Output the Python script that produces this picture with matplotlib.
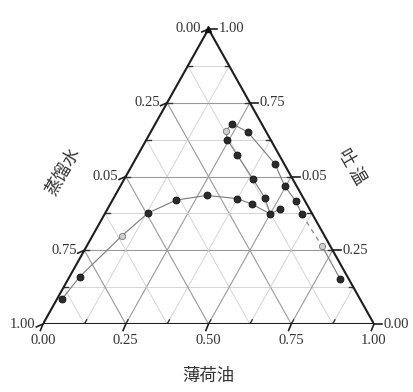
import matplotlib.pyplot as plt
import numpy as np

# values: oil (bottom axis) and tween (right axis) fractions
curve_oil = [0.015, 0.031, 0.089, 0.129, 0.192, 0.277, 0.373, 0.427, 0.500,
             0.457, 0.388, 0.299, 0.244, 0.225, 0.231, 0.293, 0.430, 0.497,
             0.556, 0.596]
curve_tween = [0.084, 0.161, 0.299, 0.376, 0.420, 0.436, 0.425, 0.407, 0.373,
               0.427, 0.492, 0.574, 0.625, 0.655, 0.679, 0.651, 0.542, 0.467,
               0.416, 0.372]
curve_light = [2, 13]
tail_oil = [0.712, 0.820]
tail_tween = [0.263, 0.154]
extra_oil = [0.500, 0.521]
extra_tween = [0.373, 0.390]

ticks = [0.0, 0.25, 0.5, 0.75, 1.0]
bottom_labels = ['0.00', '0.25', '0.50', '0.75', '1.00']
left_labels = ['1.00', '0.75', '0.05', '0.25', '0.00']     # by tween level 0 -> 1
right_labels = ['0.00', '0.25', '0.05', '0.75', '1.00']
bottom_title = '薄荷油'
left_title = '蒸馏水'
right_title = '吐 温'

serif = 'Liberation Serif'
cjk = ['Noto Sans CJK SC', 'DejaVu Sans']


def xy(oil, tween):
    oil = np.asarray(oil, float)
    tween = np.asarray(tween, float)
    return oil + tween / 2, tween


fig = plt.figure(figsize=(4.14, 3.92), dpi=100)
ax = fig.add_axes([43 / 414, 68 / 392, 331 / 414, 295 / 392])
ax.set_xlim(0, 1)
ax.set_ylim(0, 1)
ax.axis('off')

# grid, every 1/8
for k in range(1, 8):
    f = k / 8
    major = k % 2 == 0
    c = '#9a9a9a' if major else '#cfcfcf'
    lw = 0.8 if major else 0.6
    # constant tween
    ax.plot([f / 2, 1 - f / 2], [f, f], color=c, lw=lw, zorder=1)
    # constant oil
    ax.plot([f, f + (1 - f) / 2], [0, 1 - f], color=c, lw=lw, zorder=1)
    # constant water
    ax.plot([1 - f, (1 - f) / 2], [0, 1 - f], color=c, lw=lw, zorder=1)
    # small inner ticks on the edges
    d = 0.014
    ax.plot([f, f + d / 2], [0, d], color='#333', lw=1.0, zorder=2)
    ax.plot([f / 2, f / 2 + d], [f, f], color='#333', lw=1.0, zorder=2)
    ax.plot([1 - f / 2, 1 - f / 2 - d], [f, f], color='#333', lw=1.0, zorder=2)

# triangle frame
ax.plot([0, 1, 0.5, 0], [0, 0, 1, 0], color='#1e1e1e', lw=1.5, zorder=3,
        solid_joinstyle='miter')

# major ticks and labels
for v, lb, ll, lr in zip(ticks, bottom_labels, left_labels, right_labels):
    ax.plot([v, v - 0.008], [0, -0.022], color='#1e1e1e', lw=1.2, clip_on=False)
    ax.text(v, -0.035, lb, ha='center', va='top', fontsize=10.5,
            family=serif, color='#333')
    ax.plot([v / 2, v / 2 - 0.02], [v, v - 0.01], color='#1e1e1e', lw=1.2,
            clip_on=False)
    ax.text(v / 2 - 0.022, v, ll, ha='right', va='center', fontsize=10.5,
            family=serif, color='#333')
    ax.plot([1 - v / 2, 1 - v / 2 + 0.025], [v, v], color='#1e1e1e', lw=1.2,
            clip_on=False)
    ax.text(1 - v / 2 + 0.03, v, lr, ha='left', va='center', fontsize=10.5,
            family=serif, color='#333')

# axis titles
ax.text(0.5, -0.175, bottom_title, ha='center', va='center', fontsize=12.5,
        family=cjk, color='#333')
ax.text(0.06, 0.52, left_title, ha='center', va='center', fontsize=12.5,
        family=cjk, color='#333', rotation=60)
ax.text(0.935, 0.535, right_title, ha='center', va='center', fontsize=12.5,
        family=cjk, color='#333', rotation=-60)

# phase boundary
line_c = '#7a7a7a'
cx, cy = xy(curve_oil, curve_tween)
ax.plot(cx, cy, color=line_c, lw=0.8, zorder=4)
ex, ey = xy(extra_oil, extra_tween)
ax.plot(ex, ey, color=line_c, lw=0.8, zorder=4)
tx, ty = xy(tail_oil, tail_tween)
ax.plot(tx, ty, color=line_c, lw=0.8, zorder=4)
ax.plot([cx[-1], tx[0]], [cy[-1], ty[0]], color=line_c, lw=0.8,
        linestyle=(0, (4, 4)), zorder=4)

dark = [i for i in range(len(cx)) if i not in curve_light]
ax.plot(cx[dark], cy[dark], 'o', ms=5, color='#2b2b2b', mec='#111',
        mew=0.6, zorder=5)
ax.plot(cx[curve_light], cy[curve_light], 'o', ms=4.5, color='#d0d0d0',
        mec='#777', mew=0.6, zorder=5)
ax.plot(ex[1:], ey[1:], 'o', ms=5, color='#2b2b2b', mec='#111', mew=0.6,
        zorder=5)
ax.plot(tx[:1], ty[:1], 'o', ms=4.5, color='#d0d0d0', mec='#777', mew=0.6,
        zorder=5)
ax.plot(tx[1:], ty[1:], 'o', ms=5, color='#2b2b2b', mec='#111', mew=0.6,
        zorder=5)
ax.plot([0.5], [1.0], marker='^', ms=5, color='#111', clip_on=False, zorder=6)

fig.savefig('out.png', dpi=100, facecolor='white')
